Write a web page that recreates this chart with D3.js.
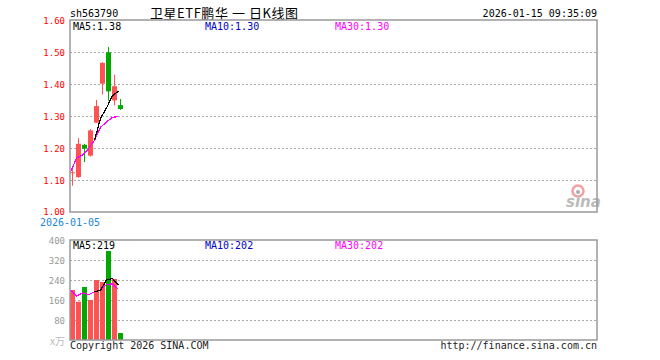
<!DOCTYPE html>
<html><head><meta charset="utf-8">
<script src="https://cdn.jsdelivr.net/npm/d3@7"></script>
<style>html,body{margin:0;padding:0;background:#fff}svg{display:block}</style>
</head><body>
<svg id="c" width="660" height="360"></svg>
<script>
const dates = ["2026-01-05","2026-01-06","2026-01-07","2026-01-08","2026-01-09","2026-01-12","2026-01-13","2026-01-14","2026-01-15"];
const open  = [1.124,1.109,1.210,1.176,1.279,1.401,1.499,1.349,1.334];
const high  = [1.137,1.231,1.213,1.259,1.350,1.468,1.516,1.429,1.353];
const low   = [1.082,1.107,1.156,1.173,1.279,1.367,1.348,1.333,1.319];
const close = [1.124,1.213,1.198,1.255,1.331,1.466,1.377,1.393,1.322];
const ma5   = [null,null,null,null,1.224,1.293,1.325,1.364,1.378];
const ma10  = [1.124,1.169,1.178,1.198,1.224,1.265,1.281,1.296,1.298];
const ma30  = [1.124,1.169,1.178,1.198,1.224,1.265,1.281,1.296,1.298];
const volume = [200,153,212,160,240,232,356,244,28];
const vma5  = [null,null,null,null,193,199,240,246,219];
const vma10 = [200,176.5,188.3,181.3,193,199.5,221.9,224.6,202];
const vma30 = [200,176.5,188.3,181.3,193,199.5,221.9,224.6,202];
const priceTicks = [1.00,1.10,1.20,1.30,1.40,1.50,1.60];
const volTicks = [80,160,240,320,400];
const code = "sh563790";
const title = "卫星ETF鹏华 一 日K线图";
const stamp = "2026-01-15 09:35:09";

const svg = d3.select("#c");
const L = 70, R = 597;
const mono = "'DejaVu Sans Mono', monospace";
const RED = "#ff5252", GREEN = "#00a800", FRAME = "#999", GRID = "#aaa";

const x = d3.scaleLinear().domain([0, 88]).range([L, L + 528]);
const yP = d3.scaleLinear().domain([1.0, 1.6]).range([212, 20]);
const yV = d3.scaleLinear().domain([0, 400]).range([340, 240]);

// header
svg.append("text").attr("x", 70).attr("y", 17).attr("font-family", mono).attr("font-size", 10).attr("fill", "#000").text(code);
svg.append("text").attr("x", 150).attr("y", 18).attr("font-family", "'Noto Sans CJK SC', sans-serif").attr("font-size", 13)
  .attr("textLength", 148).attr("lengthAdjust", "spacing").attr("fill", "#000").text(title);
svg.append("text").attr("x", R).attr("y", 17).attr("text-anchor", "end").attr("font-family", mono).attr("font-size", 10).attr("fill", "#000").text(stamp);

function grid(scale, ticks, skip) {
  svg.append("g").selectAll("line").data(ticks.filter(t => !skip.includes(t))).join("line")
    .attr("x1", L).attr("x2", R)
    .attr("y1", d => Math.round(scale(d)) + 0.5).attr("y2", d => Math.round(scale(d)) + 0.5)
    .attr("stroke", GRID).attr("stroke-dasharray", "2,2");
}
grid(yP, priceTicks, [1.0, 1.6]);
grid(yV, volTicks, [400]);

// y tick labels
const pAxis = d3.axisLeft(yP).tickValues(priceTicks).tickFormat(d3.format(".2f")).tickSize(0).tickPadding(0);
const gp = svg.append("g").attr("transform", `translate(${L - 5},0)`).call(pAxis);
gp.select(".domain").remove();
gp.selectAll("text").attr("font-family", mono).attr("font-size", 9).attr("fill", "#f00").attr("dy", 0)
  .attr("transform", d => d === 1.0 ? "translate(0,2)" : "translate(0,3.5)");

const vAxis = d3.axisLeft(yV).tickValues(volTicks).tickFormat(d3.format("d")).tickSize(0).tickPadding(0);
const gv = svg.append("g").attr("transform", `translate(${L - 5},0)`).call(vAxis);
gv.select(".domain").remove();
gv.selectAll("text").attr("font-family", mono).attr("font-size", 9).attr("fill", "#999").attr("dy", 0).attr("transform", "translate(0,3.5)");
svg.append("text").attr("x", 65).attr("y", 345).attr("text-anchor", "end").attr("font-family", "'Noto Sans CJK SC', sans-serif").attr("font-size", 10).attr("fill", "#bbb").text("x万");

// date label
svg.append("text").attr("x", x(0)).attr("y", 226).attr("text-anchor", "middle").attr("font-family", mono).attr("font-size", 10).attr("fill", "#1a88d8").text(dates[0]);

// sina logo
const logo = svg.append("g");
logo.append("circle").attr("cx", 578).attr("cy", 191).attr("r", 5.5).attr("fill", "none").attr("stroke", "#f4a0a0").attr("stroke-width", 2.5);
logo.append("circle").attr("cx", 578).attr("cy", 192).attr("r", 2).attr("fill", "#aaa");
logo.append("text").attr("x", 566).attr("y", 207).attr("font-family", "'DejaVu Sans', sans-serif").attr("font-style", "italic").attr("font-weight", "bold").attr("font-size", 15).attr("fill", "#bbb").text("sina");

// candles
const idx = d3.range(dates.length);
const cg = svg.append("g");
const col = i => close[i] >= open[i] ? RED : GREEN;
cg.selectAll("line.w").data(idx).join("line").attr("class", "w")
  .attr("x1", i => x(i) + 2.5).attr("x2", i => x(i) + 2.5)
  .attr("y1", i => yP(high[i])).attr("y2", i => yP(low[i]))
  .attr("stroke", col).attr("stroke-width", 1);
cg.selectAll("rect").data(idx).join("rect")
  .attr("x", i => x(i)).attr("width", i => x(i + 1) - x(i) - 1)
  .attr("y", i => yP(Math.max(open[i], close[i])))
  .attr("height", i => Math.max(1, Math.abs(yP(open[i]) - yP(close[i]))))
  .attr("fill", col);

// volume bars
svg.append("g").selectAll("rect").data(idx).join("rect")
  .attr("x", i => x(i)).attr("width", i => x(i + 1) - x(i) - 1)
  .attr("y", i => yV(volume[i])).attr("height", i => yV(0) - yV(volume[i]))
  .attr("fill", col);

// MA lines
function maLine(arr, scale, color) {
  const line = d3.line().defined(d => d[1] != null).x(d => x(d[0]) + 0.5).y(d => scale(d[1]));
  svg.append("path").datum(arr.map((v, i) => [i, v])).attr("d", line)
    .attr("fill", "none").attr("stroke", color).attr("stroke-width", 1.2).attr("shape-rendering", "crispEdges");
}
maLine(ma10, yP, "#0000cc");
maLine(ma30, yP, "#ff00ff");
maLine(ma5, yP, "#000");
maLine(vma10, yV, "#0000cc");
maLine(vma30, yV, "#ff00ff");
maLine(vma5, yV, "#000");

// frames
svg.append("rect").attr("x", L).attr("y", 20).attr("width", R - L).attr("height", 192).attr("fill", "none").attr("stroke", FRAME).attr("stroke-width", 1.5);
svg.append("rect").attr("x", L).attr("y", 240).attr("width", R - L).attr("height", 100).attr("fill", "none").attr("stroke", FRAME).attr("stroke-width", 1.5);

// legends
function legend(y, a, b, c) {
  svg.append("text").attr("x", 73).attr("y", y).attr("font-family", mono).attr("font-size", 10).attr("fill", "#000").text(a);
  svg.append("text").attr("x", 205).attr("y", y).attr("font-family", mono).attr("font-size", 10).attr("fill", "#0000cc").text(b);
  svg.append("text").attr("x", 335).attr("y", y).attr("font-family", mono).attr("font-size", 10).attr("fill", "#ff00ff").text(c);
}
legend(30, "MA5:" + d3.format(".2f")(ma5[8]), "MA10:" + d3.format(".2f")(ma10[8]), "MA30:" + d3.format(".2f")(ma30[8]));
legend(249, "MA5:" + vma5[8], "MA10:" + vma10[8], "MA30:" + vma30[8]);

// footer
svg.append("text").attr("x", 70).attr("y", 349).attr("font-family", mono).attr("font-size", 10).attr("fill", "#222").text("Copyright 2026 SINA.COM");
svg.append("text").attr("x", R).attr("y", 349).attr("text-anchor", "end").attr("font-family", mono).attr("font-size", 10).attr("fill", "#222").text("http://finance.sina.com.cn");
</script>
</body></html>
